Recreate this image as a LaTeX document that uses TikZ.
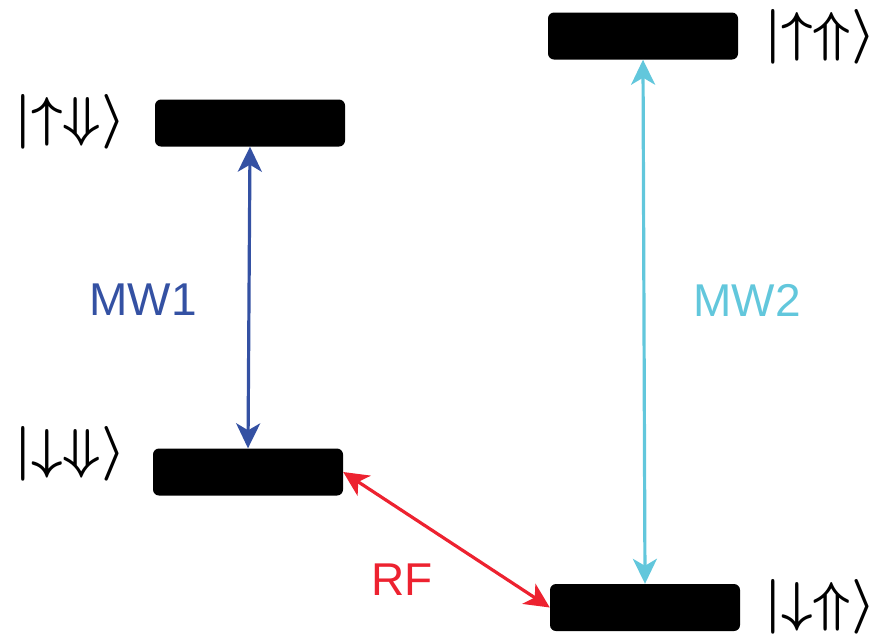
\documentclass[tikz,border=0pt]{standalone}
\usepackage{fontspec}
\setmainfont{Liberation Sans}
\usetikzlibrary{arrows.meta}
\definecolor{mwone}{HTML}{3451A3}
\definecolor{mwtwo}{HTML}{62C7DC}
\definecolor{rfred}{HTML}{ED2230}
\begin{document}
\begin{tikzpicture}[x=1pt,y=-1pt,
  level/.style={fill=black,rounded corners=6pt,minimum width=190pt,minimum height=47pt,inner sep=0pt},
  ket/.style={font=\Huge\boldmath,scale=2.2,transform shape,inner sep=0pt},
  lbl/.style={font=\fontsize{46}{50}\selectfont,inner sep=0pt},
  trans/.style={line width=3.2pt,{Stealth[length=25pt,width=24pt,inset=7pt]}-{Stealth[length=25pt,width=24pt,inset=7pt]}}]
\useasboundingbox (0,0) rectangle (875,641);
% energy levels
\node[level] (uD) at (250,123) {};
\node[level] (dD) at (248,472) {};
\node[level] (uU) at (643,36) {};
\node[level] (dU) at (645,607.5) {};
% state labels
\node[ket] (kuD) at (70,122) {$|{\uparrow}{\Downarrow}\rangle$};
\node[ket] (kdD) at (70,454) {$|{\downarrow}{\Downarrow}\rangle$};
\node[ket] (kuU) at (820,37) {$|{\uparrow}{\Uparrow}\rangle$};
\node[ket] (kdU) at (820,607) {$|{\downarrow}{\Uparrow}\rangle$};
% transitions
\draw[trans,mwone] (uD.south) -- (dD.north);
\draw[trans,mwtwo] (uU.south) -- (dU.north);
\draw[trans,rfred] (dD.east) -- (dU.west);
\node[lbl,text=mwone] (mw1) at (143,300) {MW1};
\node[lbl,text=mwtwo] (mw2) at (747,300) {MW2};
\node[lbl,text=rfred] (rf) at (402,580) {RF};
\end{tikzpicture}
\end{document}
